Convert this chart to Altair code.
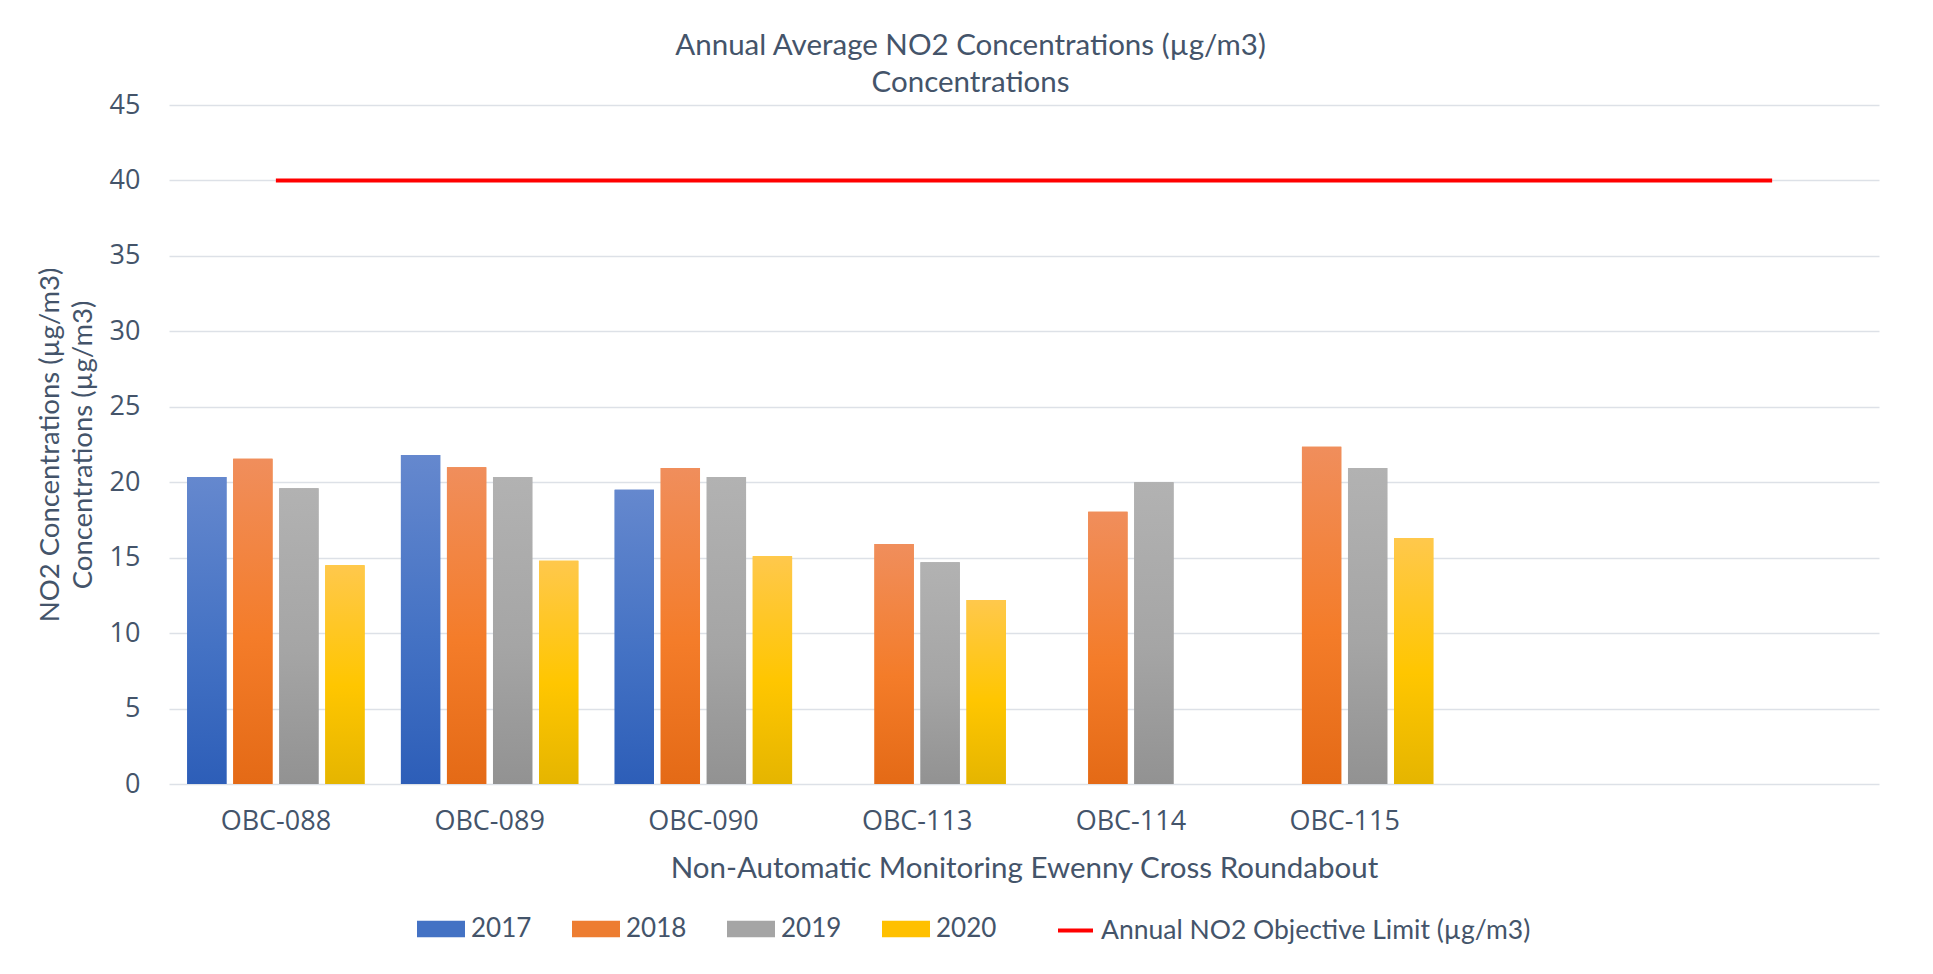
import altair as alt
import pandas as pd

# ---------------- data ----------------
CATEGORIES = ["OBC-088", "OBC-089", "OBC-090", "OBC-113", "OBC-114", "OBC-115", " ", "  "]
YEARS = ["2017", "2018", "2019", "2020"]
V2017 = [20.35, 21.8, 19.5, None, None, None, None, None]
V2018 = [21.55, 21.0, 20.95, 15.9, 18.05, 22.35, None, None]
V2019 = [19.6, 20.35, 20.35, 14.7, 20.0, 20.95, None, None]
V2020 = [14.5, 14.8, 15.1, 12.2, None, 16.3, None, None]
LIMIT = [40, 40, 40, 40, 40, 40, 40, 40]
LIMIT_LABEL = "Annual NO2 Objective Limit (µg/m3)"
Y_TICKS = [0, 5, 10, 15, 20, 25, 30, 35, 40, 45]

TITLE = ["Annual Average NO2 Concentrations (µg/m3)", "Concentrations"]
Y_TITLE = ["NO2 Concentrations (µg/m3)", "Concentrations (µg/m3)"]
X_TITLE = "Non-Automatic Monitoring Ewenny Cross Roundabout"

# ---------------- styles ----------------
BASE_COLORS = ["#4472C4", "#ED7D31", "#A5A5A5", "#FFC000"]
LIMIT_COLOR = "#FF0000"
GRADIENT_STOPS = [
    ["#6588CE", "#4472C4", "#2D5EB8"],
    ["#F08E5C", "#F47C29", "#E46A16"],
    ["#B2B2B2", "#A5A5A5", "#929292"],
    ["#FFC84C", "#FFC600", "#E5B500"],
]
TEXT = "#44546A"
GRID = "#DDE1E7"

rows = []
for year, vals in zip(YEARS, [V2017, V2018, V2019, V2020]):
    for cat, v in zip(CATEGORIES, vals):
        if v is not None:
            rows.append({"site": cat, "series": year, "value": v})
bars_df = pd.DataFrame(rows)
limit_df = pd.DataFrame({"site": CATEGORIES, "value": LIMIT, "series": [LIMIT_LABEL] * len(CATEGORIES)})

x_enc = alt.X(
    "site:N",
    sort=CATEGORIES,
    scale=alt.Scale(domain=CATEGORIES, paddingInner=0.17, paddingOuter=0.085),
    axis=alt.Axis(
        title=X_TITLE,
        labelAngle=0,
        domain=False,
        ticks=False,
        grid=False,
        labelPadding=24,
        labelFont="Open Sans",
        labelFontSize=27,
        labelColor=TEXT,
        titleFont="Lato",
        titleFontSize=29.5,
        titleFontWeight="normal",
        titleColor=TEXT,
        titlePadding=20,
    ),
)
xoff_enc = alt.XOffset(
    "series:N", sort=YEARS, scale=alt.Scale(domain=YEARS, paddingInner=0.146, paddingOuter=0)
)
y_enc = alt.Y(
    "value:Q",
    scale=alt.Scale(domain=[0, 45], nice=False),
    axis=alt.Axis(
        title=Y_TITLE,
        values=Y_TICKS,
        domain=False,
        ticks=False,
        grid=True,
        gridColor=GRID,
        gridWidth=1.5,
        labelPadding=29,
        labelFont="Open Sans",
        labelFontSize=27,
        labelColor=TEXT,
        titleFont="Lato",
        titleFontSize=27.5,
        titleFontWeight="normal",
        titleColor=TEXT,
        titlePadding=12,
        titleLineHeight=33,
    ),
)

bar_legend = alt.Legend(
    title=None,
    orient="none",
    legendX=248,
    legendY=800,
    direction="horizontal",
    symbolSize=2304,
    symbolType="M-1,-0.34H1V0.34H-1Z",
    symbolStrokeWidth=0,
    labelFont="Lato",
    labelFontSize=26,
    labelColor=TEXT,
    labelOffset=6,
    columnPadding=40,
)
line_legend = alt.Legend(
    title=None,
    orient="none",
    legendX=887,
    legendY=806,
    direction="horizontal",
    symbolSize=1225,
    symbolType="M-1,0H1",
    symbolStrokeWidth=4,
    labelFont="Lato",
    labelFontSize=26.5,
    labelColor=TEXT,
    labelOffset=6,
    labelLimit=700,
)

base_bars = alt.Chart(bars_df).mark_bar().encode(
    x=x_enc,
    xOffset=xoff_enc,
    y=y_enc,
    color=alt.Color(
        "series:N",
        scale=alt.Scale(domain=YEARS, range=BASE_COLORS),
        legend=bar_legend,
    ),
)

grad_layers = []
for year, stops in zip(YEARS, GRADIENT_STOPS):
    grad = alt.LinearGradient(
        gradient="linear",
        x1=0, y1=0, x2=0, y2=1,
        stops=[
            alt.GradientStop(offset=0, color=stops[0]),
            alt.GradientStop(offset=0.55, color=stops[1]),
            alt.GradientStop(offset=1, color=stops[2]),
        ],
    )
    grad_layers.append(
        alt.Chart(bars_df)
        .transform_filter(alt.datum.series == year)
        .mark_bar(fill=grad)
        .encode(x=x_enc, xOffset=xoff_enc, y=y_enc)
    )

limit_line = alt.Chart(limit_df).mark_line(strokeWidth=4).encode(
    x=x_enc,
    y=y_enc,
    stroke=alt.Stroke(
        "series:N",
        scale=alt.Scale(domain=[LIMIT_LABEL], range=[LIMIT_COLOR]),
        legend=line_legend,
    ),
)

chart = (
    alt.layer(base_bars, *grad_layers, limit_line)
    .properties(
        width=1710,
        height=679,
        background="white",
        title=alt.TitleParams(
            text=TITLE,
            font="Lato",
            fontSize=29.5,
            fontWeight="normal",
            color=TEXT,
            lineHeight=37,
            anchor="middle",
            frame="bounds",
            offset=-7,
            dx=13,
        ),
        autosize=alt.AutoSizeParams(type="none"),
        padding={"left": 161, "top": 97, "right": 46, "bottom": 170},
    )
    .resolve_scale(color="independent")
    .configure_view(stroke="transparent", strokeWidth=0)
)

chart.save("out.html", embed_options={"renderer": "svg", "actions": False})
